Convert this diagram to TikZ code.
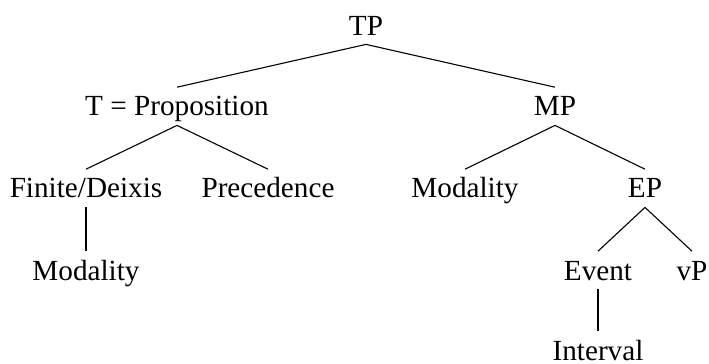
\documentclass[tikz,border=0pt]{standalone}
\usepackage{fontspec}
\setmainfont{Liberation Serif}
\usepackage{tikz}

\begin{document}
\begin{tikzpicture}[%
        x = 0.5pt,
        y = -0.5pt,
        tree node/.style = {%
          font = \fontsize{14.6}{17.5}\selectfont,
          anchor = base,
          text height = 9.7pt,
          text depth = 0pt,
          inner xsep = 0pt,
          inner ysep = 4.5pt,
        },
        branch/.style = {line width = 0.55pt},
      ]
      \useasboundingbox (0,0) rectangle (709,364);
      % level 0 and 1
      \node[tree node] (tp)       at (366,35)  {TP};
      \node[tree node] (t)        at (177,116) {T = Proposition};
      \node[tree node] (mp)       at (555,116) {MP};
      % level 2
      \node[tree node] (finite)   at (86,198)  {Finite/Deixis};
      \node[tree node] (prec)     at (268,198) {Precedence};
      \node[tree node] (modal)    at (465,198) {Modality};
      \node[tree node] (ep)       at (645,198) {EP};
      % level 3 and 4
      \node[tree node] (modaltwo) at (86,280)  {Modality};
      \node[tree node] (event)    at (598,280) {Event};
      \node[tree node] (vp)       at (692,280) {vP};
      \node[tree node] (interval) at (598,360) {Interval};

      \draw[branch] (tp.south) -- (t.north);
      \draw[branch] (tp.south) -- (mp.north);
      \draw[branch] (t.south) -- (finite.north);
      \draw[branch] (t.south) -- (prec.north);
      \draw[branch] (mp.south) -- (modal.north);
      \draw[branch] (mp.south) -- (ep.north);
      \draw[branch] (finite.south) -- (modaltwo.north);
      \draw[branch] (ep.south) -- (event.north);
      \draw[branch] (ep.south) -- (vp.north);
      \draw[branch] (event.south) -- (interval.north);
    \end{tikzpicture}
\end{document}
